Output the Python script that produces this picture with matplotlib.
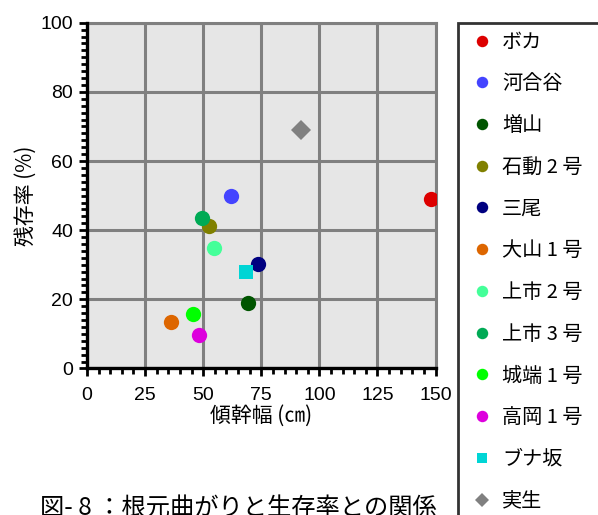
import matplotlib.pyplot as plt
from matplotlib.ticker import MultipleLocator

# データ
names = ['ボカ', '河合谷', '増山', '石動 2 号', '三尾', '大山 1 号',
         '上市 2 号', '上市 3 号', '城端 1 号', '高岡 1 号', 'ブナ坂', '実生']
width_cm = [148, 62, 69.5, 52.5, 73.5, 36.2, 54.5, 49.5, 45.5, 48.3, 68.4, 92]
survival = [49.1, 49.8, 19.0, 41.3, 30.1, 13.5, 34.7, 43.6, 15.8, 9.7, 27.8, 69.1]
colors = ['#dd0000', '#4444ff', '#005500', '#808000', '#000080', '#dd6600',
          '#44ff99', '#00aa55', '#00ff00', '#dd00dd', '#00d5d5', '#808080']
markers = ['o'] * 10 + ['s', 'D']

x_ticks = [0, 25, 50, 75, 100, 125, 150]
y_ticks = [0, 20, 40, 60, 80, 100]

plt.rcParams['font.family'] = ['Noto Sans CJK JP', 'DejaVu Sans']

fig = plt.figure(figsize=(5.98, 5.15), dpi=100)
ax = fig.add_axes([0.1455, 0.2845, 0.5828, 0.6714])
ax.set_facecolor('#e6e6e6')

for n, x, y, c, m in zip(names, width_cm, survival, colors, markers):
    ms = {'o': 11, 's': 10.5, 'D': 10}[m]
    ax.plot(x, y, linestyle='none', marker=m, color=c, markersize=ms,
            markeredgewidth=0, label=n)

ax.set_xlim(0, 150)
ax.set_ylim(0, 100)
ax.set_xticks(x_ticks)
ax.set_yticks(y_ticks)
ax.xaxis.set_minor_locator(MultipleLocator(5))
ax.yaxis.set_minor_locator(MultipleLocator(2))
ax.grid(True, which='major', color='#808080', linewidth=2.2)
ax.set_axisbelow(True)

for s in ['top', 'right']:
    ax.spines[s].set_visible(False)
for s in ['left', 'bottom']:
    ax.spines[s].set_linewidth(2.4)
    ax.spines[s].set_color('black')
    ax.spines[s].set_zorder(5)

# 上端・右端の灰色線
ax.axhline(100, color='#808080', linewidth=2.2, clip_on=False, zorder=0.5)
ax.axvline(150, color='#808080', linewidth=2.2, clip_on=False, zorder=0.5)

ax.tick_params(which='major', direction='out', length=6, width=2, color='black',
               labelsize=14, pad=4)
ax.tick_params(axis='x', which='major', pad=7)
ax.tick_params(which='minor', direction='out', length=4, width=2, color='black')
for lab in ax.get_xticklabels() + ax.get_yticklabels():
    lab.set_fontfamily('Liberation Sans')

ax.set_xlabel('傾幹幅 (㎝)', fontsize=15, labelpad=1)
ax.set_ylabel('残存率 (%)', fontsize=15, labelpad=3)

leg = fig.legend(loc='upper left',
                 bbox_to_anchor=(458 / 598, 0, 200 / 598, 1 - 22.7 / 515),
                 bbox_transform=fig.transFigure, borderaxespad=0, mode='expand',
                 frameon=True, fancybox=False, fontsize=14.5,
                 markerscale=0.75, labelspacing=1.03, handletextpad=0.25,
                 handlelength=1.5, borderpad=0.44)
leg.get_frame().set_edgecolor('black')
leg.get_frame().set_linewidth(2)

# 図の下端で切れているキャプション（元図と同じ）
fig.text(0.399, 1 - 496 / 515, '図- 8 ：根元曲がりと生存率との関係',
         ha='center', va='top', fontsize=17.5)

fig.savefig('out.png', dpi=100)
